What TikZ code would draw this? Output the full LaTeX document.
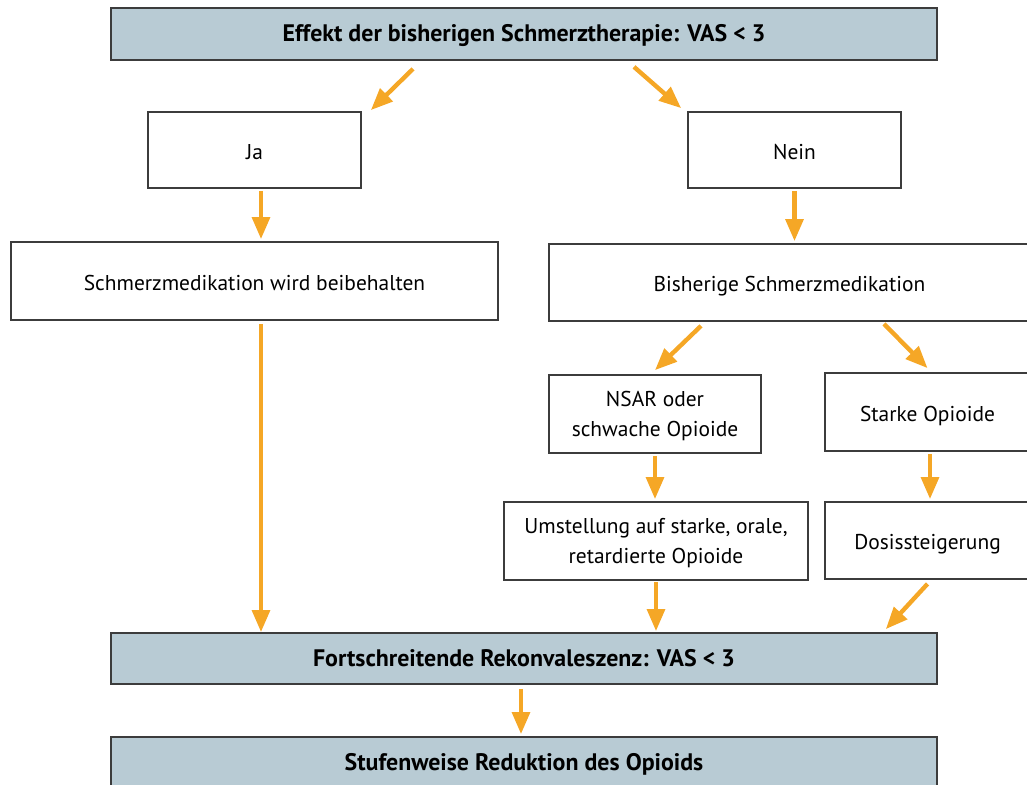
\documentclass[tikz,border=0pt]{standalone}
\usepackage{fontspec}
\setmainfont{PT Sans}
\usepackage{tikz}
\usetikzlibrary{arrows.meta}

\definecolor{boxblue}{RGB}{184,203,212}
\definecolor{flowor}{RGB}{245,167,38}
\definecolor{frame}{RGB}{60,60,60}

\tikzset{
  stepbox/.style={draw=frame,line width=1pt,fill=white,align=center,
    font=\fontsize{12.2}{17}\selectfont,inner sep=0pt,
    text height=13.4pt,text depth=2.6pt},
  twoline/.style={text height=27.5pt,text depth=1.76pt},
  headbox/.style={stepbox,fill=boxblue,font=\bfseries\fontsize{13.6}{17}\selectfont,
    text height=11.5pt,text depth=2.54pt},
  flow/.style={draw=flowor,line width=2.5pt,
    -{Triangle[length=0.44cm,width=0.35cm]}}
}

\begin{document}
\begin{tikzpicture}[x=0.02cm,y=-0.02cm]
\useasboundingbox (0,0) rectangle (1027,784);

% Start
\node[headbox,minimum width=16.52cm,minimum height=1.04cm] (top) at (524,34)
  {Effekt der bisherigen Schmerztherapie: VAS < 3};

% Yes / no
\node[stepbox,minimum width=4.26cm,minimum height=1.52cm] (ja) at (254.5,150) {Ja};
\node[stepbox,minimum width=4.26cm,minimum height=1.52cm] (nein) at (794.5,150) {Nein};

% Medication
\node[stepbox,minimum width=9.74cm,minimum height=1.56cm] (keep) at (254.5,281)
  {Schmerzmedikation wird beibehalten};
\node[stepbox,minimum width=9.62cm,minimum height=1.54cm] (prior) at (789.5,282.5)
  {Bisherige Schmerzmedikation};

\node[stepbox,twoline,minimum width=4.24cm,minimum height=1.56cm] (nsar) at (655,414)
  {NSAR oder\\schwache Opioide};
\node[stepbox,minimum width=4.1cm,minimum height=1.56cm] (strong) at (927.5,412)
  {Starke Opioide};

\node[stepbox,twoline,minimum width=6.08cm,minimum height=1.56cm] (switch) at (656,541)
  {Umstellung auf starke, orale,\\retardierte Opioide};
\node[stepbox,minimum width=4.1cm,minimum height=1.54cm] (dose) at (927.5,540.5)
  {Dosissteigerung};

% Result
\node[headbox,minimum width=16.52cm,minimum height=1.02cm] (prog) at (524,658.5)
  {Fortschreitende Rekonvaleszenz: VAS < 3};
\node[headbox,minimum width=16.52cm,minimum height=1.04cm] (taper) at (524,763)
  {Stufenweise Reduktion des Opioids};

% Arrows
\draw[flow] ([xshift=-2.22cm,yshift=-0.16cm]top.south) -- ([xshift=0.18cm,yshift=0.02cm]ja.north east);
\draw[flow] ([xshift=2.2cm,yshift=-0.12cm]top.south) -- ([xshift=-0.12cm,yshift=0.06cm]nein.north west);
\draw[flow] ([xshift=0.13cm,yshift=-0.04cm]ja.south) -- ([xshift=0.13cm,yshift=0.04cm]keep.north);
\draw[flow] ([yshift=-0.04cm]nein.south) -- ([yshift=0.04cm]nein.south |- prior.north);
\draw[flow] ([xshift=0.13cm,yshift=-0.06cm]keep.south) -- ([xshift=0.13cm]keep.south |- prog.north);
\draw[flow] ([xshift=-1.77cm,yshift=-0.08cm]prior.south) -- ([yshift=0.08cm]nsar.north);
\draw[flow] ([xshift=1.89cm,yshift=-0.04cm]prior.south) -- ([yshift=0.08cm]strong.north);
\draw[flow] ([yshift=-0.04cm]nsar.south) -- ([yshift=0.04cm]nsar.south |- switch.north);
\draw[flow] ([xshift=0.05cm,yshift=-0.04cm]strong.south) -- ([xshift=0.05cm,yshift=0.04cm]strong.south |- dose.north);
\draw[flow] ([yshift=-0.02cm]switch.south) -- ([yshift=0.02cm]switch.south |- prog.north);
\draw[flow] ([yshift=-0.08cm]dose.south) -- ([xshift=-1.04cm,yshift=0.06cm]prog.north east);
\draw[flow] ([xshift=-0.06cm,yshift=-0.08cm]prog.south) -- ([xshift=-0.06cm,yshift=0.04cm]taper.north);

\end{tikzpicture}
\end{document}
